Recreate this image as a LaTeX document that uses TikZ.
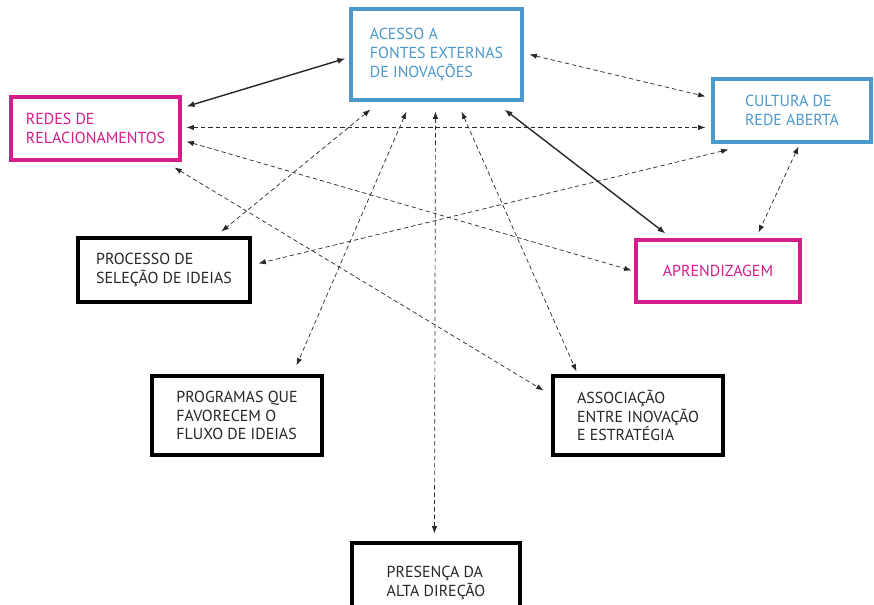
\documentclass[tikz,border=0pt]{standalone}
\usepackage{fontspec}
\setmainfont{PT Sans}
\usetikzlibrary{arrows.meta,calc,shadows}

\definecolor{azul}{RGB}{74,152,204}
\definecolor{magenta}{RGB}{212,28,138}
\definecolor{seta}{RGB}{40,40,40}

\begin{document}
\begin{tikzpicture}[x=0.3mm, y=-0.3mm,
    caixa/.style={draw, line width=2.6pt, fill=white, align=left,
        font=\fontsize{13.6}{15.8}\selectfont,
        drop shadow={opacity=0.12, shadow xshift=0.6mm, shadow yshift=-0.6mm}},
    caixaazul/.style={caixa, draw=azul, text=azul},
    caixarosa/.style={caixa, draw=magenta, text=magenta},
    caixapreta/.style={caixa, draw=black, text=black!85},
    forte/.style={{Latex[length=2.4mm,width=1.8mm]}-{Latex[length=2.4mm,width=1.8mm]}, line width=1.2pt, seta},
    fraca/.style={{Latex[length=2.2mm,width=1.6mm]}-{Latex[length=2.2mm,width=1.6mm]}, line width=0.6pt, seta, dash pattern=on 1.3mm off 0.9mm}]
    \clip (0,0) rectangle (874,605);
    \fill[white] (0,0) rectangle (874,605);

    % Caixas
    \node[caixaazul, minimum width=171*0.3mm, minimum height=91*0.3mm] (acesso) at (436.5,54.5)
        {ACESSO A\\FONTES EXTERNAS\\DE INOVAÇÕES};
    \node[caixarosa, minimum width=169*0.3mm, minimum height=63*0.3mm] (redes) at (95.5,128.5)
        {REDES DE\\RELACIONAMENTOS};
    \node[caixaazul, minimum width=158*0.3mm, minimum height=63*0.3mm] (cultura) at (792,110.5)
        {CULTURA DE\\REDE ABERTA};
    \node[caixarosa, minimum width=164*0.3mm, minimum height=62*0.3mm] (aprend) at (718,271)
        {APRENDIZAGEM};
    \node[caixapreta, minimum width=172*0.3mm, minimum height=64*0.3mm] (processo) at (164,270)
        {PROCESSO DE\\SELEÇÃO DE IDEIAS};
    \node[caixapreta, minimum width=170*0.3mm, minimum height=79*0.3mm] (programas) at (237,415.5)
        {PROGRAMAS QUE\\FAVORECEM O\\FLUXO DE IDEIAS};
    \node[caixapreta, minimum width=170*0.3mm, minimum height=79*0.3mm] (assoc) at (638,415.5)
        {ASSOCIAÇÃO\\ENTRE INOVAÇÃO\\E ESTRATÉGIA};
    \node[caixapreta, minimum width=168*0.3mm, minimum height=80*0.3mm] (presenca) at (436,583)
        {PRESENÇA DA\\ALTA DIREÇÃO};

    % Ligacoes fortes
    \draw[forte] ($(redes.north east)+(5,11)$) -- ($(acesso.north west)+(-4,51)$);
    \draw[forte] ($(acesso.south east)+(-19,8)$) -- ($(aprend.north west)+(31,-5)$);

    % Ligacoes tracejadas
    \draw[fraca] ($(acesso.north east)+(6,47)$) -- ($(cultura.north west)+(-6,19)$);
    \draw[fraca] ($(redes.north east)+(5,32)$) -- ($(cultura.north west)+(-6,50)$);
    \draw[fraca] ($(redes.north east)+(5,46)$) -- ($(aprend.north west)+(-3,32)$);
    \draw[fraca] ($(redes.south east)+(-7,6)$) -- ($(assoc.north west)+(-8,16)$);
    \draw[fraca] ($(acesso.south west)+(112,10)$) -- ($(assoc.north west)+(25,-3)$);
    \draw[fraca] ($(acesso.south west)+(21,8)$) -- ($(processo.north west)+(145,-5)$);
    \draw[fraca] ($(cultura.south west)+(17,6)$) -- ($(processo.north east)+(7,27)$);
    \draw[fraca] ($(acesso.south west)+(57,10)$) -- ($(programas.north west)+(146,-9)$);
    \draw[fraca] ($(acesso.south west)+(86,10)$) -- ($(presenca.north west)+(84,-8)$);
    \draw[fraca] ($(cultura.south west)+(87,3)$) -- ($(aprend.north west)+(124,-6)$);
\end{tikzpicture}
\end{document}
